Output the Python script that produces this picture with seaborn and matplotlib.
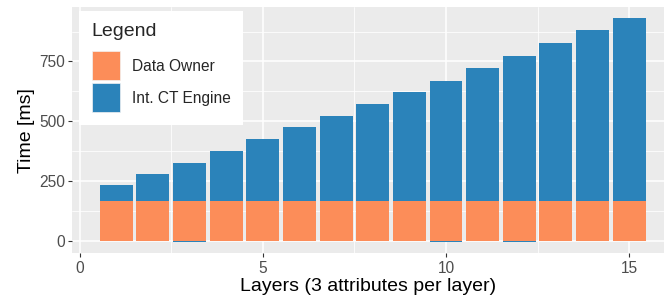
import matplotlib
matplotlib.use("Agg")
import matplotlib.pyplot as plt
import matplotlib.patches as mpatches
import seaborn as sns
import pandas as pd
import numpy as np

layers = list(range(1, 16))
data_owner = [166] * 15
ct_engine = [67, 112, 158, 208, 258, 309, 357, 407, 457, 503, 557, 607, 661, 715, 765]
ct_engine_neg = [0, 0, -6, 0, 0, 0, 0, 0, 0, -6, 0, -6, 0, 0, 0]
series_names = ["Data Owner", "Int. CT Engine"]
colors = ["#FC8D59", "#2B83BA"]
xticks = [0, 5, 10, 15]
yticks = [0, 250, 500, 750]

df = pd.DataFrame({
    "layer": layers,
    "owner": data_owner,
    "engine": ct_engine,
    "neg": ct_engine_neg,
})
df["total"] = df["owner"] + df["engine"]

sns.set_theme(style="darkgrid")
plt.rcParams["font.family"] = ["Liberation Sans", "DejaVu Sans"]

fig = plt.figure(figsize=(6.64, 3.04), dpi=100)
ax = fig.add_axes([72.3 / 664, 50.7 / 304, 591.7 / 664, 246.3 / 304])
ax.set_facecolor("#EBEBEB")

common = dict(native_scale=True, width=0.9, linewidth=0, edgecolor="none",
              errorbar=None, saturation=1, ax=ax, zorder=3)
sns.barplot(data=df, x="layer", y="total", color=colors[1], **common)
sns.barplot(data=df, x="layer", y="owner", color=colors[0], **common)
sns.barplot(data=df, x="layer", y="neg", color=colors[1], **common)

ax.set_xlim(-0.2, 15.95)
ax.set_ylim(-51.8, 977.8)
ax.set_xticks(xticks)
ax.set_xticklabels([str(t) for t in xticks])
ax.set_yticks(yticks)
ax.set_yticklabels([str(t) for t in yticks])
ax.set_xticks([2.5, 7.5, 12.5], minor=True)
ax.set_yticks([125, 375, 625, 875], minor=True)
ax.grid(which="major", color="white", linewidth=1.1, zorder=0)
ax.grid(which="minor", color="white", linewidth=0.55, zorder=0)
ax.set_axisbelow(True)
for s in ax.spines.values():
    s.set_visible(False)
ax.tick_params(axis="both", which="major", length=3, width=0.8, color="#333333",
               labelcolor="#4D4D4D", labelsize=11.2, pad=2.2, bottom=True, left=True)
ax.tick_params(axis="both", which="minor", length=0)

ax.set_xlabel("Layers (3 attributes per layer)", fontsize=14, color="black", labelpad=2)
ax.set_ylabel("Time [ms]", fontsize=14, color="black", labelpad=3)

handles = [mpatches.Patch(facecolor=c, edgecolor="#F2F2F2", linewidth=0.5, label=n)
           for c, n in zip(colors, series_names)]
leg = ax.legend(handles=handles, title="Legend", loc="upper left",
                bbox_to_anchor=(0.0115, 0.984), borderaxespad=0,
                frameon=True, fancybox=False, fontsize=11.2, title_fontsize=14,
                handlelength=1.86, handleheight=2.49, labelspacing=0.19,
                handletextpad=0.71, borderpad=0.8, alignment="left")
leg._legend_box.sep = 8
leg.get_frame().set_facecolor("white")
leg.get_frame().set_edgecolor("white")
leg.get_frame().set_linewidth(0)
leg.get_frame().set_alpha(1)
leg.set_zorder(5)

fig.savefig("out.png", dpi=100)
